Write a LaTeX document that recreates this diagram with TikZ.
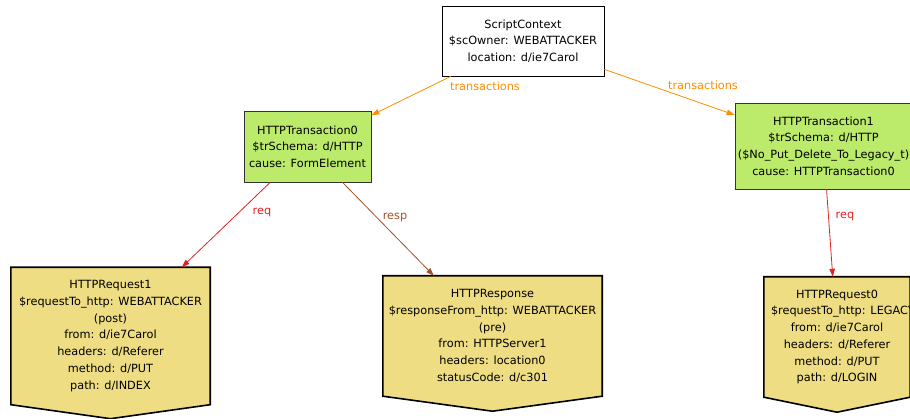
\documentclass[tikz,border=0pt]{standalone}
\usepackage{fontspec}
\setmainfont{DejaVu Sans}
\usetikzlibrary{arrows.meta,calc,backgrounds}
\definecolor{gvgreen}{RGB}{188,234,106}
\definecolor{gvkhaki}{RGB}{238,221,130}
\definecolor{gvorange}{RGB}{255,140,0}
\definecolor{gvred}{RGB}{228,32,32}
\definecolor{gvbrown}{RGB}{160,82,45}
\begin{document}
\begin{tikzpicture}[x=1pt,y=-1pt,
  txt/.style={font=\fontsize{11.3}{16.7}\selectfont, align=center, inner sep=0pt},
  ctxbox/.style={txt, draw=black, line width=0.8pt, fill=white},
  trbox/.style={txt, draw=black!80, line width=0.8pt, fill=gvgreen},
  msgbox/.style={txt, draw=none},
  msgshape/.style={fill=gvkhaki, draw=black, line width=1.6pt, line join=miter},
  edge/.style={line width=0.8pt, -{Triangle[length=8pt,width=5.5pt]}},
  lbl/.style={font=\fontsize{11.3}{13}\selectfont, inner sep=0pt}
]
\useasboundingbox (0,0) rectangle (910,419);
\clip (0,0) rectangle (910,419);

% nodes
\node[ctxbox, minimum width=162pt, minimum height=70pt] (sc) at (523,41)
  {ScriptContext\\\$scOwner: WEBATTACKER\\location: d/ie7Carol};
\node[trbox, minimum width=127pt, minimum height=71pt] (t0) at (307.5,146.5)
  {HTTPTransaction0\\\$trSchema: d/HTTP\\cause: FormElement};
\node[trbox, minimum width=177pt, minimum height=86pt] (t1) at (823.5,146)
  {HTTPTransaction1\\\$trSchema: d/HTTP\\(\$No\_Put\_Delete\_To\_Legacy\_t)\\cause: HTTPTransaction0};

\node[msgbox, minimum width=199pt, minimum height=137pt] (rq1) at (110.5,336)
  {HTTPRequest1\\\$requestTo\_http: WEBATTACKER\\(post)\\from: d/ie7Carol\\headers: d/Referer\\method: d/PUT\\path: d/INDEX};
\node[msgbox, minimum width=219pt, minimum height=120pt] (rsp) at (492.5,336)
  {HTTPResponse\\\$responseFrom\_http: WEBATTACKER\\(pre)\\from: HTTPServer1\\headers: location0\\statusCode: d/c301};
\node[msgbox, minimum width=146pt, minimum height=120pt] (rq0) at (837,337)
  {HTTPRequest0\\\makebox[132pt][l]{\$requestTo\_http: LEGACY}\\from: d/ie7Carol\\headers: d/Referer\\method: d/PUT\\path: d/LOGIN};

\begin{pgfonlayer}{background}
  \foreach \n/\d in {rq1/14, rsp/15, rq0/15} {
    \draw[msgshape] (\n.north west) -- (\n.north east) -- (\n.south east)
      -- ($(\n.south)+(0,\d)$) -- (\n.south west) -- cycle;
  }
\end{pgfonlayer}

% edges
\draw[edge, gvorange] (sc) -- (t0);
\draw[edge, gvorange] (sc) -- (t1);
\draw[edge, gvred] (t0) -- (rq1);
\draw[edge, gvbrown] (t0) -- (rsp);
\draw[edge, gvred] (t1) -- (rq0);

% labels
\node[lbl, text=gvorange] (l1) at (485,86) {transactions};
\node[lbl, text=gvorange] (l2) at (703,85) {transactions};
\node[lbl, text=gvred] (l3) at (262,213) {req};
\node[lbl, text=gvbrown] (l4) at (395,218) {resp};
\node[lbl, text=gvred] (l5) at (845,217) {req};
\end{tikzpicture}
\end{document}
